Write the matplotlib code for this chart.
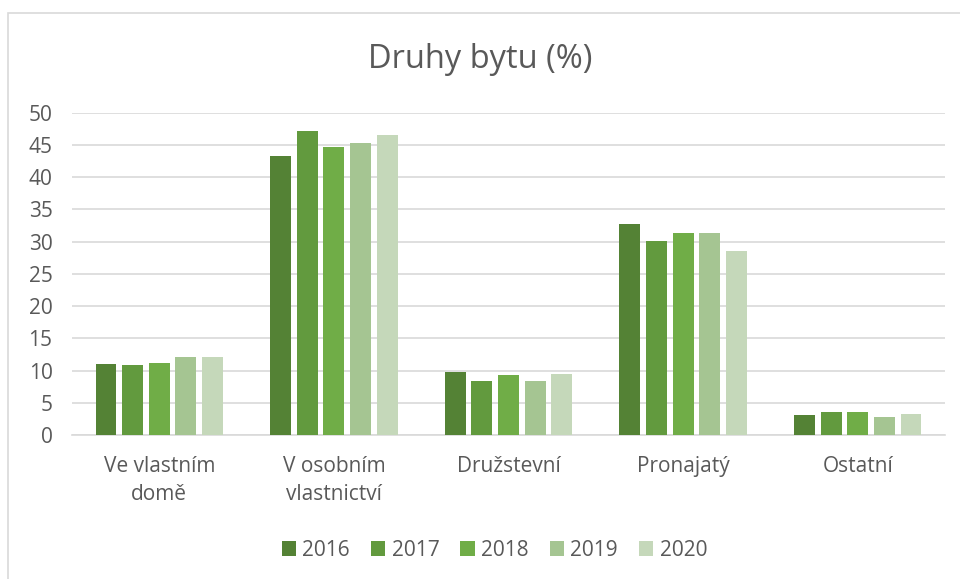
import matplotlib.pyplot as plt
from matplotlib.patches import Rectangle
import numpy as np

plt.rcParams['font.family'] = ['Open Sans', 'DejaVu Sans']

categories = ["Ve vlastním\ndomě", "V osobním\nvlastnictví", "Družstevní", "Pronajatý", "Ostatní"]
years = ["2016", "2017", "2018", "2019", "2020"]
values = {
	"2016": [11.0, 43.3, 9.8, 32.8, 3.1],
	"2017": [10.9, 47.1, 8.4, 30.1, 3.6],
	"2018": [11.2, 44.7, 9.3, 31.3, 3.5],
	"2019": [12.1, 45.3, 8.4, 31.4, 2.8],
	"2020": [12.1, 46.6, 9.5, 28.6, 3.3],
}
colors = ["#548235", "#629A3E", "#70AD47", "#A5C592", "#C5D8BA"]

txt = "#595959"
grid = "#D9D9D9"

fig = plt.figure(figsize=(9.6, 5.79), dpi=100)
# chart frame (cut off at right and bottom like the source screenshot)
fig.patches.append(Rectangle((8/960, -0.1), 1.2, 1 - 13/579 + 0.1, transform=fig.transFigure,
	fill=False, edgecolor=grid, linewidth=1.2))

ax = fig.add_axes([72/960, 1 - 435/579, 873/960, (435 - 112.7)/579])
x = np.arange(len(categories))
slot = 0.1527
bw = 0.12
for i, yr in enumerate(years):
	ax.bar(x + (i - 2)*slot, values[yr], bw, color=colors[i], label=yr, zorder=3)

ax.set_xlim(-0.5, 4.5)
ax.set_ylim(0, 50)
ax.set_yticks(np.arange(0, 51, 5))
ax.yaxis.grid(True, color=grid, linewidth=1.2, zorder=0)
for s in ["top", "right", "left"]:
	ax.spines[s].set_visible(False)
ax.spines["bottom"].set_color(grid)
ax.spines["bottom"].set_linewidth(1.2)
ax.tick_params(length=0, colors=txt, labelsize=15)
ax.tick_params(axis="y", pad=14)
ax.tick_params(axis="x", pad=15)
ax.set_xticks(x)
ax.set_xticklabels(categories, linespacing=1.45)

fig.text(0.5, 1 - 60/579, "Druhy bytu (%)", ha="center", va="center", fontsize=23.5, color=txt)

fig.legend(loc="center", bbox_to_anchor=(0.515, 1 - 550/579), ncol=5, frameon=False,
	fontsize=15, labelcolor=txt, handlelength=0.7, handleheight=0.7, handletextpad=0.3,
	columnspacing=1.0)

fig.savefig("out.png", dpi=100)
